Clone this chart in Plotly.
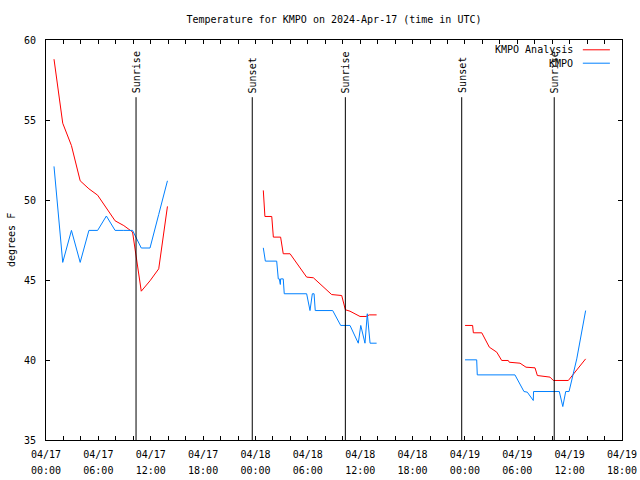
import plotly.graph_objects as go

TITLE = "Temperature for KMPO on 2024-Apr-17 (time in UTC)"
Y_TITLE = "degrees F"

# ---- KMPO Analysis (red) ----
analysis_seg1_t = ["2024-04-17 00:55", "2024-04-17 01:55", "2024-04-17 02:55", "2024-04-17 03:55",
                   "2024-04-17 04:55", "2024-04-17 05:55", "2024-04-17 06:55", "2024-04-17 07:55",
                   "2024-04-17 08:55", "2024-04-17 09:55", "2024-04-17 10:55", "2024-04-17 11:55",
                   "2024-04-17 12:55", "2024-04-17 13:55"]
analysis_seg1_v = [58.8, 54.8, 53.4, 51.2, 50.7, 50.3, 49.5, 48.7, 48.4, 48.0, 44.3, 44.95, 45.7, 49.6]

analysis_seg2_t = ["2024-04-18 00:54", "2024-04-18 00:59", "2024-04-18 01:05", "2024-04-18 01:52",
                   "2024-04-18 02:03", "2024-04-18 02:53", "2024-04-18 03:11", "2024-04-18 03:58",
                   "2024-04-18 05:52", "2024-04-18 06:38", "2024-04-18 08:44", "2024-04-18 09:53",
                   "2024-04-18 10:18", "2024-04-18 10:50", "2024-04-18 11:59", "2024-04-18 12:40",
                   "2024-04-18 13:03", "2024-04-18 13:53"]
analysis_seg2_v = [50.6, 49.4, 48.97, 48.97, 47.68, 47.68, 46.64, 46.64, 45.18, 45.14, 44.09, 44.03,
                   43.14, 43.05, 42.72, 42.72, 42.82, 42.82]

analysis_seg3_t = ["2024-04-19 00:01", "2024-04-19 00:53", "2024-04-19 00:58", "2024-04-19 01:56",
                   "2024-04-19 02:48", "2024-04-19 03:39", "2024-04-19 04:13", "2024-04-19 04:58",
                   "2024-04-19 05:05", "2024-04-19 06:19", "2024-04-19 07:00", "2024-04-19 08:02",
                   "2024-04-19 08:18", "2024-04-19 09:45", "2024-04-19 10:08", "2024-04-19 11:51",
                   "2024-04-19 13:50"]
analysis_seg3_v = [42.16, 42.16, 41.7, 41.7, 40.8, 40.49, 39.97, 39.97, 39.86, 39.8, 39.55, 39.51,
                   39.03, 38.93, 38.72, 38.72, 40.07]

# ---- KMPO observations (blue) ----
obs_seg1_t = analysis_seg1_t
obs_seg1_v = [52.1, 46.1, 48.1, 46.1, 48.1, 48.1, 49.0, 48.1, 48.1, 48.1, 47.0, 47.0, 49.1, 51.2]

obs_seg2_t = ["2024-04-18 00:54", "2024-04-18 01:08", "2024-04-18 02:26", "2024-04-18 02:37",
              "2024-04-18 02:44", "2024-04-18 02:51", "2024-04-18 02:53", "2024-04-18 03:11",
              "2024-04-18 03:18", "2024-04-18 05:52", "2024-04-18 06:15", "2024-04-18 06:31",
              "2024-04-18 06:43", "2024-04-18 06:51", "2024-04-18 08:51", "2024-04-18 09:46",
              "2024-04-18 10:50", "2024-04-18 11:47", "2024-04-18 12:04", "2024-04-18 12:33",
              "2024-04-18 12:49", "2024-04-18 13:08", "2024-04-18 13:53"]
obs_seg2_v = [47.01, 46.18, 46.18, 45.07, 45.07, 44.72, 45.07, 45.07, 44.14, 44.14, 43.09, 44.14,
              44.14, 43.09, 43.09, 42.16, 42.16, 41.05, 42.16, 41.05, 42.89, 41.05, 41.05]

obs_seg3_t = ["2024-04-19 00:01", "2024-04-19 01:21", "2024-04-19 01:25", "2024-04-19 05:44",
              "2024-04-19 06:46", "2024-04-19 07:09", "2024-04-19 07:50", "2024-04-19 07:52",
              "2024-04-19 10:49", "2024-04-19 11:13", "2024-04-19 11:33", "2024-04-19 11:56",
              "2024-04-19 12:49", "2024-04-19 13:50"]
obs_seg3_v = [40.01, 40.01, 39.07, 39.07, 38.03, 37.99, 37.47, 38.03, 38.03, 37.09, 38.03, 38.03,
              40.07, 43.09]

# ---- Sun events ----
sun_times = ["2024-04-17 10:19", "2024-04-17 23:38", "2024-04-18 10:18", "2024-04-18 23:38",
             "2024-04-19 10:14"]
sun_labels = ["Sunrise", "Sunset", "Sunrise", "Sunset", "Sunrise"]

# ---- Axis ticks ----
x_start = "2024-04-17 00:00"
x_end = "2024-04-19 18:00"
tick_days = ["04/17", "04/18", "04/19"]
tick_dates = ["2024-04-17", "2024-04-18", "2024-04-19"]
tick_hours = list(range(0, 24, 2))
y_range = [35, 60]

series_names = ["KMPO Analysis", "KMPO"]
series_colors = ["#ff0000", "#0080ff"]

FONT = "DejaVu Sans Mono"


def join(*segs):
    xs, ys = [], []
    for t, v in segs:
        if xs:
            xs.append(None)
            ys.append(None)
        xs.extend(t)
        ys.extend(v)
    return xs, ys


ax, ay = join((analysis_seg1_t, analysis_seg1_v), (analysis_seg2_t, analysis_seg2_v),
              (analysis_seg3_t, analysis_seg3_v))
ox, oy = join((obs_seg1_t, obs_seg1_v), (obs_seg2_t, obs_seg2_v), (obs_seg3_t, obs_seg3_v))

fig = go.Figure()
fig.add_trace(go.Scatter(x=ax, y=ay, mode="lines", name=series_names[0],
                         line=dict(color=series_colors[0], width=1), connectgaps=False,
                         showlegend=False))
fig.add_trace(go.Scatter(x=ox, y=oy, mode="lines", name=series_names[1],
                         line=dict(color=series_colors[1], width=1), connectgaps=False,
                         showlegend=False))

# tick values every 2 hours, labels every 6
tickvals, ticktext = [], []
for day, date in zip(tick_days, tick_dates):
    for h in tick_hours:
        tv = f"{date} {h:02d}:00"
        if tv > x_end:
            break
        tickvals.append(tv)
        if h % 6 == 0:
            ticktext.append(f"<span style='font-size:10px'>{day}</span><br>"
                            f"<span style='font-size:10px'>{h:02d}:00</span>")
        else:
            ticktext.append("")

shapes = []
annotations = []
for t, lab in zip(sun_times, sun_labels):
    shapes.append(dict(type="line", xref="x", yref="paper", x0=t, x1=t, y0=0, y1=0.857,
                       line=dict(color="black", width=1)))
    annotations.append(dict(x=t, xref="x", y=0.862, yref="paper", text=lab, textangle=-90,
                            showarrow=False, xanchor="center", yanchor="bottom",
                            font=dict(family=FONT, size=10, color="black")))

# gnuplot-style key: text right-aligned, sample line to its right
key_y = [0.9755, 0.942]
for name, color, ky in zip(series_names, series_colors, key_y):
    annotations.append(dict(x=0.918, xref="paper", y=ky, yref="paper", text=name,
                            showarrow=False, xanchor="right", yanchor="middle",
                            font=dict(family=FONT, size=10, color="black")))
    shapes.append(dict(type="line", xref="paper", yref="paper", x0=0.932, x1=0.979, y0=ky, y1=ky,
                       line=dict(color=color, width=1)))

# y-axis title
annotations.append(dict(x=-35 / 576, xref="paper", y=0.5, yref="paper", text=Y_TITLE,
                        textangle=-90, showarrow=False, xanchor="center", yanchor="middle",
                        font=dict(family=FONT, size=10, color="black")))

fig.update_layout(
    width=640, height=480,
    margin=dict(l=46, r=18, t=40, b=40),
    paper_bgcolor="white", plot_bgcolor="white",
    font=dict(family=FONT, size=10, color="black"),
    title=dict(text=TITLE, x=0.5, xref="paper", xanchor="center", y=1 - 19 / 480,
               yref="container", yanchor="middle", font=dict(family=FONT, size=10, color="black")),
    shapes=shapes, annotations=annotations,
    xaxis=dict(type="date", range=[x_start, x_end], tickmode="array", tickvals=tickvals,
               ticktext=ticktext, ticks="inside", ticklen=4, tickcolor="black", showline=True,
               linecolor="black", linewidth=1, mirror="allticks", showgrid=False, zeroline=False,
               tickfont=dict(family=FONT, size=12), tickangle=0, automargin=False,
               ticklabelstandoff=3),
    yaxis=dict(range=y_range, dtick=5, tick0=35, ticks="inside", ticklen=4, tickcolor="black",
               showline=True, linecolor="black", linewidth=1, mirror="allticks", showgrid=False,
               zeroline=False, tickfont=dict(family=FONT, size=10), ticklabelstandoff=7,
               automargin=False),
)

fig.write_html("out.html", config={"responsive": False, "displayModeBar": False},
               post_script=["document.body.style.margin='0';document.body.style.overflow='hidden';"])
